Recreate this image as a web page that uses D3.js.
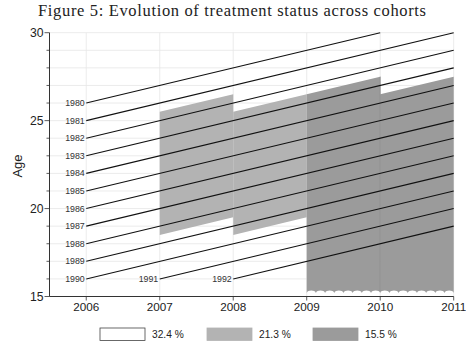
<!DOCTYPE html>
<html>
<head>
<meta charset="utf-8">
<script src="https://cdn.jsdelivr.net/npm/d3@7"></script>
<style>
  html, body { margin: 0; padding: 0; background: #fff; }
  svg { display: block; }
</style>
</head>
<body>
<svg id="chart" width="466" height="348"></svg>
<script>
// ---- data ----
const years = [2006, 2007, 2008, 2009, 2010, 2011];
const ageTicks = [15, 20, 25, 30];
const cohorts = [1980, 1981, 1982, 1983, 1984, 1985, 1986, 1987, 1988, 1989, 1990, 1991, 1992];
const cohortStart = [2006, 2006, 2006, 2006, 2006, 2006, 2006, 2006, 2006, 2006, 2006, 2007, 2008];
// treatment bands: each spans one year, age bounds given at start of the year, moving with cohorts
const bandStart = [2007, 2008, 2009, 2010];
const bandLow = [18.5, 18.5, 15.2, 15.2];
const bandHigh = [25.5, 25.5, 26.5, 26.5];
const bandGroup = [1, 1, 2, 2];
const legendLabels = ["32.4 %", "21.3 %", "15.5 %"];

// ---- setup ----
const svg = d3.select("#chart");
const x = d3.scaleLinear().domain([2005.5, 2011]).range([49.5, 453.7]);
const y = d3.scaleLinear().domain([15, 30]).range([296.5, 32.7]);
const fills = ["#ffffff", "#b3b3b3", "#9b9b9b"];
const sans = "Liberation Sans, Arial, Helvetica, sans-serif";

// title
svg.append("text")
  .attr("x", 232).attr("y", 16)
  .attr("text-anchor", "middle")
  .attr("font-family", "Liberation Serif, DejaVu Serif, serif")
  .attr("font-size", 16.5)
  .attr("textLength", 388)
  .attr("lengthAdjust", "spacing")
  .attr("fill", "#222")
  .text("Figure 5: Evolution of treatment status across cohorts");

// grid
const grid = svg.append("g");
grid.selectAll("line.h").data(d3.range(15, 31)).join("line")
  .attr("x1", x(2005.5)).attr("x2", x(2011))
  .attr("y1", d => y(d)).attr("y2", d => y(d))
  .attr("stroke", "#e6e6e6").attr("stroke-width", 0.8);
grid.selectAll("line.v").data(years).join("line")
  .attr("x1", d => x(d)).attr("x2", d => x(d))
  .attr("y1", y(15)).attr("y2", y(30))
  .attr("stroke", "#e6e6e6").attr("stroke-width", 0.8);

// bands
const bands = bandStart.map((s, i) => ({ s, lo: bandLow[i], hi: bandHigh[i], g: bandGroup[i] }));
bands.forEach(b => {
  const x0 = x(b.s), x1 = x(b.s + 1);
  let p;
  if (b.g === 2) {
    // wavy bottom (band continues below): arches going up
    const yb = y(b.lo);
    p = `M${x0},${y(b.hi)} L${x1},${y(b.hi + 1)} L${x1},${yb}`;
    const n = 8;
    const w = (x1 - x0) / n;
    for (let k = 0; k < n; k++) {
      const xa = x1 - k * w, xb = xa - w;
      p += ` C${xa - w * 0.1},${yb - 3.2} ${xb + w * 0.1},${yb - 3.2} ${xb},${yb}`;
    }
    p += " Z";
  } else {
    p = `M${x0},${y(b.hi)} L${x1},${y(b.hi + 1)} L${x1},${y(b.lo + 1)} L${x0},${y(b.lo)} Z`;
  }
  svg.append("path").attr("d", p).attr("fill", fills[b.g]);
});
// separator inside dark region
svg.append("line")
  .attr("x1", x(2010)).attr("x2", x(2010))
  .attr("y1", y(bandHigh[2] + 1)).attr("y2", y(bandLow[2]) - 1.5)
  .attr("stroke", "#8a8a8a").attr("stroke-width", 0.8);

// cohort lines
const lines = cohorts.map((c, i) => {
  const s = cohortStart[i];
  const e = Math.min(2011, c + 30);
  return { c, s, e };
});
svg.selectAll("line.cohort").data(lines).join("line")
  .attr("x1", d => x(d.s)).attr("y1", d => y(d.s - d.c))
  .attr("x2", d => x(d.e)).attr("y2", d => y(d.e - d.c))
  .attr("stroke", "#111").attr("stroke-width", 1.1);
svg.selectAll("text.cohort").data(lines).join("text")
  .attr("x", d => x(d.s) - 1.5).attr("y", d => y(d.s - d.c))
  .attr("dy", "0.35em")
  .attr("text-anchor", "end")
  .attr("font-family", sans).attr("font-size", 8.8)
  .attr("fill", "#333")
  .text(d => d.c);

// y axis
const yAxis = svg.append("g");
yAxis.append("line").attr("x1", x(2005.5)).attr("x2", x(2005.5))
  .attr("y1", y(15)).attr("y2", y(30)).attr("stroke", "#333").attr("stroke-width", 1);
yAxis.selectAll("line.t").data(d3.range(15, 31)).join("line")
  .attr("x1", d => x(2005.5) - (ageTicks.includes(d) ? 5 : 3)).attr("x2", x(2005.5))
  .attr("y1", d => y(d)).attr("y2", d => y(d))
  .attr("stroke", "#333").attr("stroke-width", 0.8);
yAxis.selectAll("text").data(ageTicks).join("text")
  .attr("x", x(2005.5) - 6).attr("y", d => y(d)).attr("dy", "0.35em")
  .attr("text-anchor", "end")
  .attr("font-family", sans).attr("font-size", 12.2)
  .attr("fill", "#222")
  .text(d => d);
svg.append("text")
  .attr("transform", `translate(22,166) rotate(-90)`)
  .attr("text-anchor", "middle")
  .attr("font-family", sans).attr("font-size", 13)
  .attr("fill", "#222")
  .text("Age");

// x axis
const xAxis = svg.append("g");
xAxis.append("line").attr("x1", x(2005.5)).attr("x2", x(2011))
  .attr("y1", y(15)).attr("y2", y(15)).attr("stroke", "#333").attr("stroke-width", 1);
xAxis.selectAll("line.t").data(years).join("line")
  .attr("x1", d => x(d)).attr("x2", d => x(d))
  .attr("y1", y(15)).attr("y2", y(15) + 4)
  .attr("stroke", "#333").attr("stroke-width", 0.8);
xAxis.selectAll("text").data(years).join("text")
  .attr("x", d => x(d)).attr("y", y(15) + 14.5)
  .attr("text-anchor", "middle")
  .attr("font-family", sans).attr("font-size", 11.7)
  .attr("fill", "#222")
  .text(d => d);

// legend
const legX = [100, 207, 313];
legendLabels.forEach((l, i) => {
  svg.append("rect")
    .attr("x", legX[i]).attr("y", 328).attr("width", 45).attr("height", 12.5)
    .attr("fill", fills[i])
    .attr("stroke", i === 0 ? "#444" : fills[i]).attr("stroke-width", 0.8);
  svg.append("text")
    .attr("x", legX[i] + 52).attr("y", 334.3).attr("dy", "0.35em")
    .attr("font-family", sans).attr("font-size", 10.2)
    .attr("fill", "#222")
    .text(l);
});
</script>
</body>
</html>
